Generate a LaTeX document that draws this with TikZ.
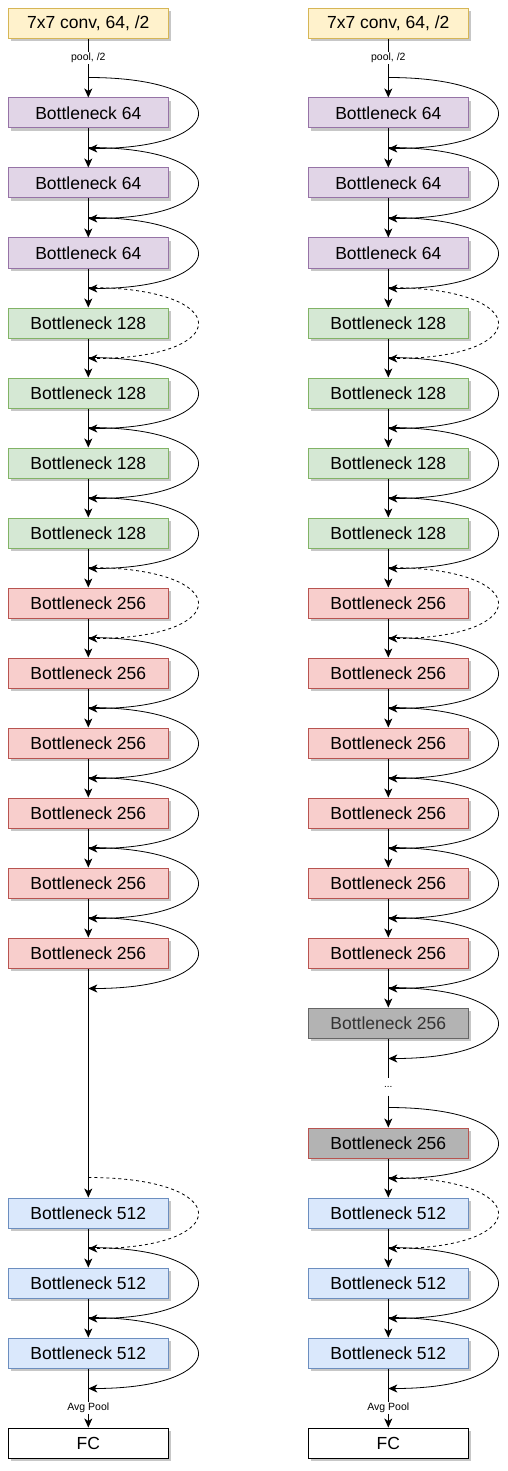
\documentclass[tikz,border=0pt]{standalone}
\usepackage{fontspec}
\setmainfont{Liberation Sans}
\usepackage{tikz}
\usetikzlibrary{positioning,%
  calc,%
  shadows,%
  arrows.meta
}

\definecolor{yelfill}{HTML}{FFF2CC}
\definecolor{yeldraw}{HTML}{D6B656}
\definecolor{purfill}{HTML}{E1D5E7}
\definecolor{purdraw}{HTML}{9673A6}
\definecolor{grnfill}{HTML}{D5E8D4}
\definecolor{grndraw}{HTML}{82B366}
\definecolor{redfill}{HTML}{F8CECC}
\definecolor{reddraw}{HTML}{B85450}
\definecolor{blufill}{HTML}{DAE8FC}
\definecolor{bludraw}{HTML}{6C8EBF}
\definecolor{gryfill}{HTML}{B3B3B3}
\definecolor{grydraw}{HTML}{666666}
\definecolor{grytext}{HTML}{333333}

\begin{document}
\begin{tikzpicture}
                    [x=1pt, y=-1pt,
                    blk/.style={rectangle,
                        minimum width=160pt, minimum height=30pt,
                        inner sep=0pt, line width=1pt,
                        font=\fontsize{17.5}{21}\selectfont,
                        drop shadow={shadow xshift=3pt, shadow yshift=-3pt,
                            opacity=1, fill=black!22}},
                    convbox/.style={blk, fill=yelfill, draw=yeldraw},
                    box64/.style={blk, fill=purfill, draw=purdraw},
                    box128/.style={blk, fill=grnfill, draw=grndraw},
                    box256/.style={blk, fill=redfill, draw=reddraw},
                    box512/.style={blk, fill=blufill, draw=bludraw},
                    greybox/.style={blk, fill=gryfill, draw=grydraw, text=grytext},
                    greyredbox/.style={blk, fill=gryfill, draw=reddraw},
                    fcbox/.style={blk, fill=white, draw=black},
                    flowline/.style={line width=1pt,
                        -{Stealth[length=9pt, width=8pt, inset=2.5pt]}},
                    skipline/.style={line width=0.8pt,
                        -{Stealth[length=9pt, width=8pt, inset=2.5pt]}},
                    lbl/.style={fill=white, inner sep=1pt,
                        font=\fontsize{10.5}{12}\selectfont}]

  \useasboundingbox (0,0) rectangle (508,1471);

  % the two columns
  \foreach \c/\x in {l/88.3, r/388.3} {
    \node[convbox] at (\x,23.3)  (\c-conv) {7x7 conv, 64, /2};
    \node[box64]   at (\x,113)   (\c-64a)  {Bottleneck 64};
    \node[box64]   at (\x,183)   (\c-64b)  {Bottleneck 64};
    \node[box64]   at (\x,253)   (\c-64c)  {Bottleneck 64};
    \node[box128]  at (\x,323)   (\c-128a) {Bottleneck 128};
    \node[box128]  at (\x,393)   (\c-128b) {Bottleneck 128};
    \node[box128]  at (\x,463)   (\c-128c) {Bottleneck 128};
    \node[box128]  at (\x,533)   (\c-128d) {Bottleneck 128};
    \node[box256]  at (\x,603)   (\c-256a) {Bottleneck 256};
    \node[box256]  at (\x,673)   (\c-256b) {Bottleneck 256};
    \node[box256]  at (\x,743)   (\c-256c) {Bottleneck 256};
    \node[box256]  at (\x,813)   (\c-256d) {Bottleneck 256};
    \node[box256]  at (\x,883)   (\c-256e) {Bottleneck 256};
    \node[box256]  at (\x,953)   (\c-256f) {Bottleneck 256};
    \node[box512]  at (\x,1213)  (\c-512a) {Bottleneck 512};
    \node[box512]  at (\x,1283)  (\c-512b) {Bottleneck 512};
    \node[box512]  at (\x,1353)  (\c-512c) {Bottleneck 512};
    \node[fcbox]   at (\x,1443)  (\c-fc)   {FC};

    \draw[flowline] (\c-conv) -- node[lbl, pos=0.33] {pool, /2} (\c-64a);
    \draw[flowline] (\c-512c) -- node[lbl, pos=0.67] {Avg Pool} (\c-fc);
    \foreach \a/\b in {64a/64b, 64b/64c, 64c/128a, 128a/128b, 128b/128c,
        128c/128d, 128d/256a, 256a/256b, 256b/256c, 256c/256d, 256d/256e,
        256e/256f, 512a/512b, 512b/512c}
      \draw[flowline] (\c-\a) -- (\c-\b);
  }

  % extra blocks on the right
  \node[greybox]    at (388.3,1023) (r-grey) {Bottleneck 256};
  \node[inner sep=0pt, minimum height=17pt,
        font=\fontsize{10}{12}\selectfont]
                    at (388.3,1087) (r-dots) {...};
  \node[greyredbox] at (388.3,1143) (r-last) {Bottleneck 256};

  \draw[flowline] (l-256f) -- (l-512a);
  \draw[flowline] (r-256f) -- (r-grey);
  \draw[line width=1pt] (r-grey) -- (r-dots);
  \draw[flowline] (r-dots) -- (r-last);
  \draw[flowline] (r-last) -- (r-512a);

  % shortcuts
  \foreach \b/\d in {l-64a/solid, l-64b/solid, l-64c/solid, l-128a/dashed,
      l-128b/solid, l-128c/solid, l-128d/solid, l-256a/dashed, l-256b/solid,
      l-256c/solid, l-256d/solid, l-256e/solid, l-256f/solid, l-512a/dashed,
      l-512b/solid, l-512c/solid,
      r-64a/solid, r-64b/solid, r-64c/solid, r-128a/dashed,
      r-128b/solid, r-128c/solid, r-128d/solid, r-256a/dashed, r-256b/solid,
      r-256c/solid, r-256d/solid, r-256e/solid, r-256f/solid, r-grey/solid,
      r-last/solid, r-512a/dashed, r-512b/solid, r-512c/solid} {
    \coordinate (\b-in)  at ($(\b.north)+(0,20pt)$);
    \coordinate (\b-out) at ($(\b.south)-(0,20pt)$);
    \draw[skipline, \d] (\b-in) .. controls +(146,0) and +(146,0) .. (\b-out);
  }
\end{tikzpicture}
\end{document}
